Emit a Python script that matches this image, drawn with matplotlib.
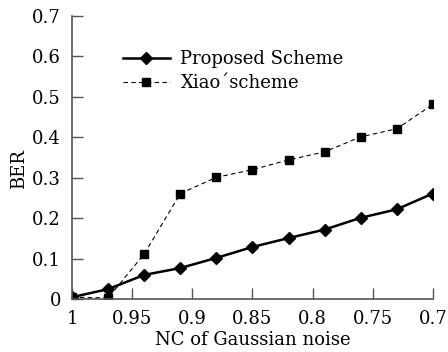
import numpy as np
import matplotlib.pyplot as plt

# NC values (x axis runs from 1 down to 0.7)
nc = [1.0, 0.97, 0.94, 0.91, 0.88, 0.85, 0.82, 0.79, 0.76, 0.73, 0.70]
proposed = [0.005, 0.025, 0.06, 0.077, 0.102, 0.129, 0.151, 0.172, 0.201, 0.222, 0.261]
xiao = [0.005, 0.003, 0.112, 0.261, 0.301, 0.32, 0.344, 0.364, 0.401, 0.421, 0.481]

xticks = [1, 0.95, 0.9, 0.85, 0.8, 0.75, 0.7]
xticklabels = ['1', '0.95', '0.9', '0.85', '0.8', '0.75', '0.7']
yticks = [0, 0.1, 0.2, 0.3, 0.4, 0.5, 0.6, 0.7]
yticklabels = ['0', '0.1', '0.2', '0.3', '0.4', '0.5', '0.6', '0.7']

plt.rcParams['font.family'] = ['DejaVu Serif']
plt.rcParams['font.size'] = 13

fig = plt.figure(figsize=(4.48, 3.52), dpi=100)
ax = fig.add_axes([0.161, 0.15, 0.805, 0.805])

ax.plot(nc, proposed, '-', color='black', lw=1.8, marker='D', ms=6.5,
        label='Proposed Scheme')
ax.plot(nc, xiao, '--', color='black', lw=0.8, dashes=(4, 3), marker='s', ms=5.5,
        label='Xiao\u00b4scheme')

ax.set_xlim(1, 0.7)
ax.set_ylim(0, 0.7)
ax.set_xticks(xticks)
ax.set_xticklabels(xticklabels)
ax.set_yticks(yticks)
ax.set_yticklabels(yticklabels)
ax.tick_params(direction='in', length=8, width=1, color='#555555')
ax.tick_params(axis='x', pad=8)
ax.tick_params(axis='y', pad=8)

for s in ['top', 'right']:
    ax.spines[s].set_visible(False)
for s in ['left', 'bottom']:
    ax.spines[s].set_color('#555555')
    ax.spines[s].set_linewidth(1.2)

ax.set_xlabel('NC of Gaussian noise', labelpad=2)
ax.set_ylabel('BER')
ax.yaxis.set_label_coords(-0.122, 0.46)

ax.legend(loc='upper left', bbox_to_anchor=(0.12, 0.905), frameon=False,
          handlelength=2.6, handletextpad=0.6, labelspacing=0.35, borderaxespad=0)

fig.savefig('out.png', dpi=100)
